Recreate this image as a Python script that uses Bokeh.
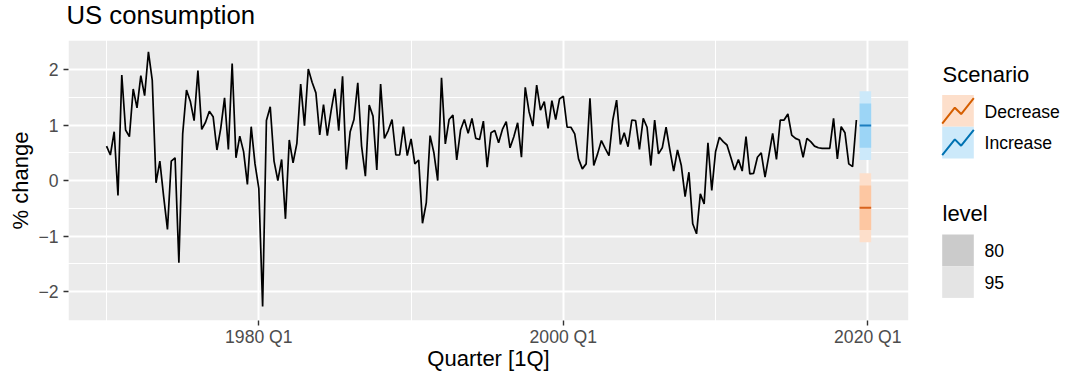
import numpy as np
from bokeh.plotting import figure
from bokeh.models import Range1d, FixedTicker
from bokeh.embed import file_html
from bokeh.resources import INLINE
from bokeh.core.properties import value

# ---------------- data ----------------
start_year = 1970  # first observation: 1970 Q1, quarterly
consumption = [
    0.62, 0.46, 0.88, -0.27, 1.90, 0.91, 0.79, 1.65, 1.31, 1.89, 1.53, 2.32,
    1.81, -0.04, 0.35, -0.29, -0.88, 0.35, 0.41, -1.48, 0.84, 1.63, 1.43, 1.08,
    1.98, 0.92, 1.05, 1.25, 1.15, 0.55, 0.94, 1.49, 0.56, 2.11, 0.41, 0.80,
    0.52, -0.07, 0.97, 0.30, -0.14, -2.27, 1.08, 1.33, 0.35, 0.00, 0.38, -0.69,
    0.73, 0.32, 0.67, 1.74, 0.99, 2.01, 1.77, 1.58, 0.82, 1.37, 0.81, 1.26,
    1.65, 0.90, 1.88, 0.20, 0.88, 1.10, 1.76, 0.62, 0.08, 1.36, 1.16, 0.19,
    1.74, 0.76, 0.90, 1.10, 0.46, 0.46, 0.97, 0.45, 0.75, 0.30, 0.37, -0.77,
    -0.40, 0.81, 0.50, 0.00, 1.85, 0.66, 1.10, 1.18, 0.37, 0.91, 1.10, 0.85,
    1.12, 0.76, 0.74, 1.07, 0.24, 0.86, 0.90, 0.68, 0.92, 1.06, 0.59, 0.79,
    1.04, 0.42, 1.68, 1.24, 0.98, 1.72, 1.27, 1.42, 0.94, 1.44, 1.10, 1.47,
    1.52, 0.96, 0.96, 0.84, 0.39, 0.21, 0.30, 1.48, 0.27, 0.48, 0.72, 0.58,
    0.45, 1.09, 1.45, 0.65, 0.86, 0.61, 1.09, 1.08, 0.56, 1.12, 0.96, 0.27,
    1.09, 0.48, 0.59, 0.96, 0.55, 0.17, 0.55, 0.27, -0.29, 0.15, -0.78, -0.96,
    -0.24, -0.42, 0.68, -0.18, 0.52, 0.78, 0.70, 0.64, 0.42, 0.19, 0.38, 0.17,
    0.79, 0.12, 0.13, 0.42, 0.50, 0.06, 0.45, 0.85, 0.38, 1.09, 1.09, 1.20,
    0.82, 0.76, 0.73, 0.42, 0.76, 0.70, 0.62, 0.59, 0.58, 0.58, 0.58, 1.12,
    0.39, 0.97, 0.86, 0.30, 0.25, 1.09,
]

scenarios = ["Decrease", "Increase"]
fc_quarter = 2019.5            # 2019 Q3 (one-step forecast)
fc_mean = [-0.49, 0.99]
fc_lo80 = [-0.89, 0.59]
fc_hi80 = [-0.09, 1.39]
fc_lo95 = [-1.11, 0.37]
fc_hi95 = [0.13, 1.61]
levels = ["80", "95"]

x_ticks = [1980, 2000, 2020]
x_tick_labels = ["1980 Q1", "2000 Q1", "2020 Q1"]
x_minor = [1970, 1990, 2010]
y_ticks = [-2, -1, 0, 1, 2]
y_tick_labels = ["\u22122", "\u22121", "0", "1", "2"]
y_minor = [-1.5, -0.5, 0.5, 1.5]

title = "US consumption"
x_title = "Quarter [1Q]"
y_title = "% change"

# ---------------- layout constants ----------------
FONT = "Liberation Sans"
W, H = 1073, 372
FR_X0, FR_X1 = 0, W               # frame covers the whole canvas (page px)
FR_Y0, FR_Y1 = 0, H
PX_PER_YEAR = 15.225
PX_PER_UNIT = 55.5
PANEL_PG = (68, 908, 40, 320)     # panel box in page px (x0, x1, y0, y1)
panel_x0, panel_x1 = 1967.5, 2022.67
panel_y0, panel_y1 = -2.523, 2.523
x_start = panel_x0 - (PANEL_PG[0] - FR_X0) / PX_PER_YEAR
x_end = panel_x0 + (FR_X1 - PANEL_PG[0]) / PX_PER_YEAR
y_end = panel_y1 + (PANEL_PG[2] - FR_Y0) / PX_PER_UNIT
y_start = panel_y1 - (FR_Y1 - PANEL_PG[2]) / PX_PER_UNIT

line_col = {"Decrease": "#D55E00", "Increase": "#0072B2"}
mean_col = {"Decrease": "#D8631E", "Increase": "#1B7EC0"}
band95_col = {"Decrease": "#FDDFCB", "Increase": "#CCE9FA"}
band80_col = {"Decrease": "#FDC7A2", "Increase": "#9CD5F6"}
key_fill = {"Decrease": "#FDDFCB", "Increase": "#CCE9FA"}
level_fill = {"80": "#CBCBCB", "95": "#E4E4E4"}

x = start_year + np.arange(len(consumption)) / 4.0

p = figure(width=W, height=H,
           x_range=Range1d(x_start, x_end), y_range=Range1d(y_start, y_end),
           output_backend="svg", toolbar_location=None,
           min_border_left=0, min_border_right=0, min_border_top=0, min_border_bottom=0,
           background_fill_color="white", border_fill_color="white",
           outline_line_color=None)
p.title.visible = False
p.extra_x_ranges = {"px": Range1d(FR_X0, FR_X1)}
p.extra_y_ranges = {"px": Range1d(FR_Y1, FR_Y0)}

# panel background
p.quad(left=[panel_x0], right=[panel_x1], bottom=[panel_y0], top=[panel_y1],
       fill_color="#EBEBEB", line_color=None, level="image")

# grid
p.xgrid.ticker = FixedTicker(ticks=x_ticks, minor_ticks=x_minor)
p.ygrid.ticker = FixedTicker(ticks=y_ticks, minor_ticks=y_minor)
for g in (p.xgrid, p.ygrid):
    g.grid_line_color = "white"
    g.grid_line_width = 2
    g.minor_grid_line_color = "white"
    g.minor_grid_line_width = 1

# white masks outside the panel (hide grid lines there)
for l_, r_, b_, t_ in [(panel_x1, x_end, y_start, y_end),
                       (x_start, panel_x0, y_start, y_end),
                       (x_start, x_end, y_start, panel_y0),
                       (x_start, x_end, panel_y1, y_end)]:
    p.quad(left=[l_], right=[r_], bottom=[b_], top=[t_],
           fill_color="white", line_color=None)

# axes, pinned to the panel edges
p.xaxis.fixed_location = panel_y0
p.yaxis.fixed_location = panel_x0
p.xaxis.ticker = FixedTicker(ticks=x_ticks)
p.xaxis.major_label_overrides = {t: l for t, l in zip(x_ticks, x_tick_labels)}
p.yaxis.ticker = FixedTicker(ticks=y_ticks)
p.yaxis.major_label_overrides = {t: l for t, l in zip(y_ticks, y_tick_labels)}
for ax in (p.xaxis, p.yaxis):
    ax.axis_line_color = None
    ax.major_tick_line_color = "#333333"
    ax.major_tick_line_width = 1.4
    ax.major_tick_in = 0
    ax.major_tick_out = 5
    ax.minor_tick_line_color = None
    ax.major_label_text_font = FONT
    ax.major_label_text_font_size = "17.6px"
    ax.major_label_text_color = "#4D4D4D"
p.xaxis.major_label_standoff = 1
p.yaxis.major_label_standoff = 5

# titles (page-pixel coordinates)
p.text(x=[66], y=[14], text=[title], x_range_name="px", y_range_name="px",
       text_font=value(FONT), text_font_size=value("25.7px"),
       text_align="left", text_baseline="middle", text_color="black")
p.text(x=[(PANEL_PG[0] + PANEL_PG[1]) / 2], y=[358], text=[x_title],
       x_range_name="px", y_range_name="px",
       text_font=value(FONT), text_font_size=value("22px"),
       text_align="center", text_baseline="middle", text_color="black")
p.text(x=[20], y=[(PANEL_PG[2] + PANEL_PG[3]) / 2], text=[y_title], angle=np.pi / 2,
       x_range_name="px", y_range_name="px",
       text_font=value(FONT), text_font_size=value("22px"),
       text_align="center", text_baseline="middle", text_color="black")

# history
p.line(x, consumption, line_color="black", line_width=1.7)

# forecasts
for i, s in enumerate(scenarios):
    left = fc_quarter - 0.04
    right = fc_quarter + 0.72
    p.quad(left=[left], right=[right], bottom=[fc_lo95[i]], top=[fc_hi95[i]],
           fill_color=band95_col[s], line_color=None)
    p.quad(left=[left], right=[right], bottom=[fc_lo80[i]], top=[fc_hi80[i]],
           fill_color=band80_col[s], line_color=None)
    p.segment(x0=[left], x1=[right], y0=[fc_mean[i]], y1=[fc_mean[i]],
              line_color=mean_col[s], line_width=2)

# ---------------- legend (page-pixel coordinates) ----------------
kx0, kx1 = 941.7, 973.3
key_h = 31.7
key_tops = [94.5, 126.2]
for i, s in enumerate(scenarios):
    t = key_tops[i]
    p.quad(left=[kx0], right=[kx1], top=[t], bottom=[t + key_h],
           fill_color=key_fill[s], line_color=None,
           x_range_name="px", y_range_name="px")
    zx = [0, 0.4, 0.6, 1.0]
    zy = [0.1, 0.6, 0.4, 0.9]
    p.line([kx0 + v * (kx1 - kx0) for v in zx], [t + key_h - v * key_h for v in zy],
           line_color=line_col[s], line_width=2,
           x_range_name="px", y_range_name="px")
lvl_tops = [234.0, 265.7]
for i, l in enumerate(levels):
    t = lvl_tops[i]
    p.quad(left=[kx0], right=[kx1], top=[t], bottom=[t + key_h],
           fill_color=level_fill[l], line_color=None,
           x_range_name="px", y_range_name="px")

p.text(x=[942, 942], y=[74, 213], text=["Scenario", "level"],
       x_range_name="px", y_range_name="px",
       text_font=value(FONT), text_font_size=value("22px"),
       text_baseline="middle", text_align="left", text_color="black")
p.text(x=[984, 984, 984, 984], y=[111, 142.5, 250, 281.5],
       text=scenarios + levels,
       x_range_name="px", y_range_name="px",
       text_font=value(FONT), text_font_size=value("17.6px"),
       text_baseline="middle", text_align="left", text_color="black")

open("out.html", "w").write(file_html(p, INLINE))
